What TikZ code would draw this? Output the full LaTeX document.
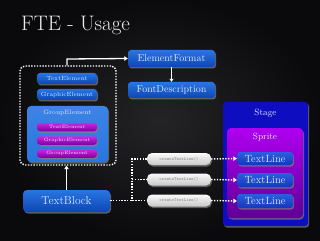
\documentclass[tikz,border=0pt]{standalone}
\usetikzlibrary{shadows,arrows.meta}
\definecolor{bgin}{RGB}{36,36,38}
\definecolor{bgout}{RGB}{10,10,12}
\definecolor{bluetop}{RGB}{40,118,225}
\definecolor{bluebot}{RGB}{14,70,180}
\definecolor{magtop}{RGB}{205,40,225}
\definecolor{magbot}{RGB}{125,0,160}
\definecolor{stageblue}{RGB}{14,14,192}
\definecolor{sprtop}{RGB}{175,0,240}
\definecolor{sprbot}{RGB}{95,0,150}
\definecolor{tltop}{RGB}{45,95,225}
\definecolor{tlbot}{RGB}{20,55,185}
\definecolor{boxtext}{RGB}{222,230,255}
\definecolor{pilltop}{RGB}{250,250,250}
\definecolor{pillbot}{RGB}{200,200,200}
\definecolor{pilltext}{RGB}{130,130,130}
\definecolor{titlecol}{RGB}{235,235,235}
\tikzset{
  shad/.style={drop shadow={opacity=0.7,shadow xshift=1pt,shadow yshift=-1.5pt}},
  bluebox/.style={rounded corners=3pt, top color=bluetop, bottom color=bluebot, text=boxtext, inner sep=0pt, shad},
  magbox/.style={rounded corners=3pt, top color=magtop, bottom color=magbot, text=boxtext, inner sep=0pt, shad},
  tlbox/.style={rounded corners=3pt, top color=tltop, bottom color=tlbot, text=boxtext, inner sep=0pt, shad},
  pill/.style={rounded corners=5pt, top color=pilltop, bottom color=pillbot, text=pilltext, inner sep=0pt, minimum width=64pt, minimum height=12pt, font=\ttfamily\fontsize{4.6}{5}\selectfont, shad},
  wline/.style={draw=white, line width=1.3pt, -{Triangle[length=3.5pt,width=4.5pt]}},
  dotline/.style={draw=white, line width=1.4pt, dash pattern=on 1.4pt off 1.4pt},
  dotarrow/.style={dotline, -{Triangle[length=3.5pt,width=4.5pt]}},
  lbl/.style={text=boxtext, inner sep=0pt}
}
\begin{document}
\begin{tikzpicture}[x=1pt,y=-1pt]
\useasboundingbox (0,0) rectangle (320,240);
\shade[inner color=bgin, outer color=bgout] (0,0) rectangle (320,240);

\node[anchor=west, text=titlecol, inner sep=0pt, font=\fontsize{21}{21}\selectfont] (title) at (21,25) {FTE - Usage};

% container (dotted)
\node[draw=white, line width=1.4pt, dash pattern=on 1.4pt off 1.4pt, rounded corners=5pt, minimum width=96pt, minimum height=99pt, inner sep=0pt] (ctr) at (68,115.5) {};

\node[bluebox, minimum width=60pt, minimum height=11pt, font=\fontsize{6}{6}\selectfont] (te1) at (67,78.5) {TextElement};
\node[bluebox, minimum width=60pt, minimum height=11pt, font=\fontsize{6}{6}\selectfont] (ge1) at (67,94.5) {GraphicElement};
\node[bluebox, rounded corners=4pt, minimum width=81pt, minimum height=56pt, top color=bluetop!90!white, bottom color=bluetop] (grp) at (67.5,134) {};
\node[lbl, font=\fontsize{6.2}{6}\selectfont] (grpl) at (67.5,112.5) {GroupElement};
\node[magbox, minimum width=60pt, minimum height=8.5pt, font=\fontsize{4.8}{5}\selectfont] (mte) at (67,127) {TextElement};
\node[magbox, minimum width=60pt, minimum height=8.5pt, font=\fontsize{4.8}{5}\selectfont] (mge) at (67,140.5) {GraphicElement};
\node[magbox, minimum width=60pt, minimum height=8.5pt, font=\fontsize{4.8}{5}\selectfont] (mgr) at (67,153.5) {GroupElement};

\node[bluebox, rounded corners=4pt, minimum width=87pt, minimum height=22pt, font=\fontsize{11.5}{12}\selectfont] (tb) at (66.5,201) {TextBlock};

\node[bluebox, minimum width=87pt, minimum height=17pt, font=\fontsize{10}{10}\selectfont] (ef) at (171.5,58.5) {ElementFormat};
\node[bluebox, minimum width=87pt, minimum height=16pt, font=\fontsize{10}{10}\selectfont] (fd) at (171.5,90) {FontDescription};

% stage and sprite
\node[fill=stageblue, rounded corners=3pt, minimum width=85pt, minimum height=124pt, inner sep=0pt, shad] (stage) at (265.5,164) {};
\node[lbl, font=\fontsize{9}{9}\selectfont] (stagel) at (265.5,113) {Stage};
\node[rounded corners=4pt, top color=sprtop, bottom color=sprbot, minimum width=76pt, minimum height=90pt, inner sep=0pt, shad] (sprite) at (265,173) {};
\node[lbl, font=\fontsize{9}{9}\selectfont] (spritel) at (265,137) {Sprite};
\node[tlbox, minimum width=56pt, minimum height=13pt, font=\fontsize{10.5}{10}\selectfont] (tl1) at (265,158.5) {TextLine};
\node[tlbox, minimum width=56pt, minimum height=14pt, font=\fontsize{10.5}{10}\selectfont] (tl2) at (265,180) {TextLine};
\node[tlbox, minimum width=56pt, minimum height=14pt, font=\fontsize{10.5}{10}\selectfont] (tl3) at (265,201) {TextLine};

\node[pill] (ct1) at (179,159) {createTextLine()};
\node[pill] (ct2) at (179,179.5) {createTextLine()};
\node[pill] (ct3) at (179,200.5) {createTextLine()};

% connectors
\coordinate (bend) at (67,59);
\draw[wline] (ctr.north -| bend) -- (bend) -- (ef.west);
\draw[draw=white, line width=0.9pt, -{Triangle[length=3pt,width=4pt]}] (ef.south) -- (fd.north);
\draw[wline] (tb.north) -- (ctr.south -| tb.north);

\coordinate (jx) at (132,200.5);
\draw[dotline] (tb.east |- ct3.west) -- (ct3.west);
\draw[dotline] (ct1.west) -| (jx);
\draw[dotline] (jx |- ct2.west) -- (ct2.west);
\draw[dotarrow] (ct1.east) -- (tl1.west);
\draw[dotarrow] (ct2.east) -- (tl2.west);
\draw[dotarrow] (ct3.east) -- (tl3.west);
\end{tikzpicture}
\end{document}
